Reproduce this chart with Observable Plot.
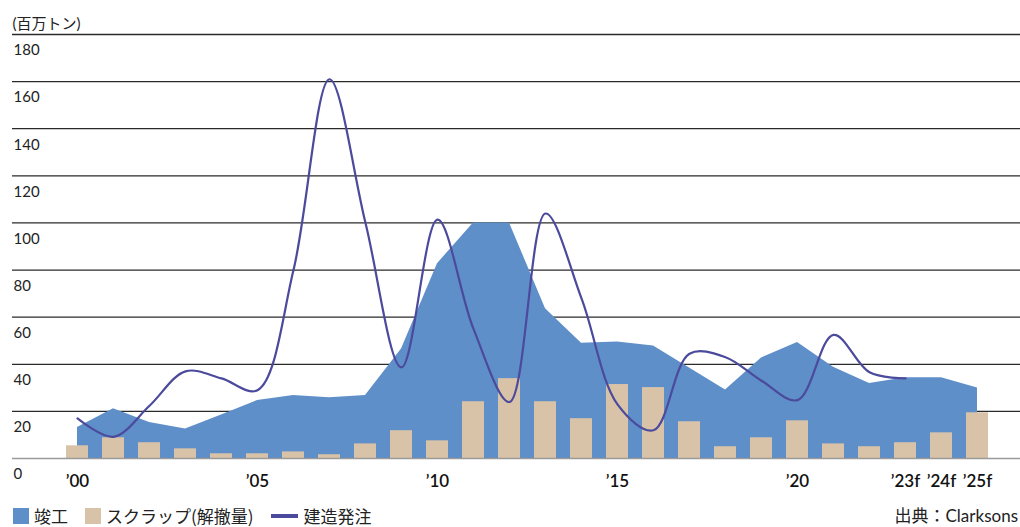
<!DOCTYPE html>
<html>
<head>
<meta charset="utf-8">
<script src="https://cdn.jsdelivr.net/npm/d3@7"></script>
<script src="https://cdn.jsdelivr.net/npm/@observablehq/plot@0.6"></script>
<style>
  html, body { margin: 0; padding: 0; background: #fff; overflow: hidden; }
  #wrap { position: relative; width: 1020px; height: 527px; overflow: hidden; font-family: Lato, "Noto Sans CJK JP", sans-serif; color: #222; }
  #legend { position: absolute; left: 13px; top: 506px; height: 20px; line-height: 20px; display: flex; align-items: center; font-size: 17px; white-space: nowrap; font-family: "Noto Sans CJK JP", sans-serif; }
  .item { display: flex; align-items: center; margin-right: 17px; height: 20px; }
  .item span { line-height: 20px; }
  .sw { width: 16px; height: 16px; margin-right: 5px; }
  .ln { width: 27px; height: 4px; margin-right: 6px; }
  #source { position: absolute; right: 2px; top: 506px; height: 20px; line-height: 20px; font-size: 17px; white-space: nowrap; }
</style>
</head>
<body>
<div id="wrap">
  <div id="chart"></div>
  <div id="legend"></div>
  <div id="source">出典：Clarksons</div>
</div>
<script>
const years = [2000, 2001, 2002, 2003, 2004, 2005, 2006, 2007, 2008, 2009, 2010, 2011, 2012,
               2013, 2014, 2015, 2016, 2017, 2018, 2019, 2020, 2021, 2022, 2023, 2024, 2025];
// 竣工 (completions), million tons
const completions = [13.2, 21.1, 15.3, 12.5, 18.5, 24.6, 26.7, 25.8, 26.7, 46.5, 82.7, 100, 100,
                     63.6, 48.9, 49.5, 47.8, 38.4, 29.1, 42.7, 49.2, 38.7, 31.8, 34.3, 34.3, 29.9];
// スクラップ（解撤量）
const scrapping = [5.4, 8.8, 6.7, 4.1, 2.0, 2.0, 2.8, 1.6, 6.2, 11.8, 7.5, 24.1, 33.9,
                   24.1, 16.9, 31.4, 30.1, 15.6, 5.0, 8.8, 16.0, 6.2, 5.0, 6.7, 10.9, 19.4];
// 建造発注 (orders), 2000–2023
const orderYears = years.slice(0, 24);
const orders = [17.0, 9.2, 22.4, 37.0, 34.0, 29.0, 80.0, 161.0, 100.0, 38.7, 101.4, 55.0, 24.0,
                104.0, 68.0, 23.0, 12.0, 44.5, 43.0, 33.0, 24.8, 52.5, 36.6, 34.0];

const yTicks = [0, 20, 40, 60, 80, 100, 120, 140, 160, 180];
const tickYears = [2000, 2005, 2010, 2015, 2020, 2023, 2024, 2025];
const tickLabels = ["’00", "’05", "’10", "’15", "’20", "’23f", "’24f", "’25f"];

const seriesNames = ["竣工", "スクラップ(解撤量)", "建造発注"];
const colors = { completions: "#5f8fc9", scrapping: "#d9c3a8", orders: "#4b4a9c" };

const main = years.map((year, i) => ({ year, completions: completions[i], scrapping: scrapping[i] }));
const orderData = orderYears.map((year, i) => ({ year, orders: orders[i] }));

const chart = Plot.plot({
  width: 1020,
  height: 495,
  marginLeft: 12,
  marginRight: 0,
  marginTop: 34,
  marginBottom: 37,
  style: { fontFamily: "Lato, 'Noto Sans CJK JP', sans-serif", fontSize: "15px", color: "#222", background: "#fff" },
  x: { type: "band", domain: years, range: [57, 996], padding: 0, axis: null },
  y: { domain: [0, 180], axis: null },
  marks: [
    Plot.ruleY(yTicks.filter(d => d > 0), { stroke: "#2a2a2a", strokeWidth: 1.3 }),
    Plot.areaY(main, { x: "year", y: "completions", fill: colors.completions }),
    Plot.barY(main, { x: "year", y: "scrapping", fill: colors.scrapping, insetLeft: 7, insetRight: 7 }),
    Plot.lineY(orderData, { x: "year", y: "orders", stroke: colors.orders, strokeWidth: 2.2, curve: "catmull-rom" }),
    Plot.ruleY([0], { stroke: "#8a8a8a", strokeWidth: 1.5, strokeOpacity: 0.85 }),
    Plot.text(yTicks, { y: d => d, text: d => String(d), frameAnchor: "left", textAnchor: "start", dx: 1, dy: 16, fontSize: 15, fill: "#222" }),
    Plot.text(["(百万トン)"], { frameAnchor: "top-left", textAnchor: "start", dy: -16, fontSize: 15, fill: "#222" }),
    Plot.axisX({ ticks: tickYears, tickFormat: d => tickLabels[tickYears.indexOf(d)], tickSize: 0, tickPadding: 16, fontSize: 17, fontWeight: 600, label: null, fill: "#111" })
  ]
});
document.getElementById("chart").appendChild(chart);

const legend = document.getElementById("legend");
[["sw", colors.completions], ["sw", colors.scrapping], ["ln", colors.orders]].forEach(([cls, c], i) => {
  const item = document.createElement("div");
  item.className = "item";
  const sw = document.createElement("div");
  sw.className = cls;
  sw.style.background = c;
  const t = document.createElement("span");
  t.textContent = seriesNames[i];
  item.appendChild(sw);
  item.appendChild(t);
  legend.appendChild(item);
});
</script>
</body>
</html>
